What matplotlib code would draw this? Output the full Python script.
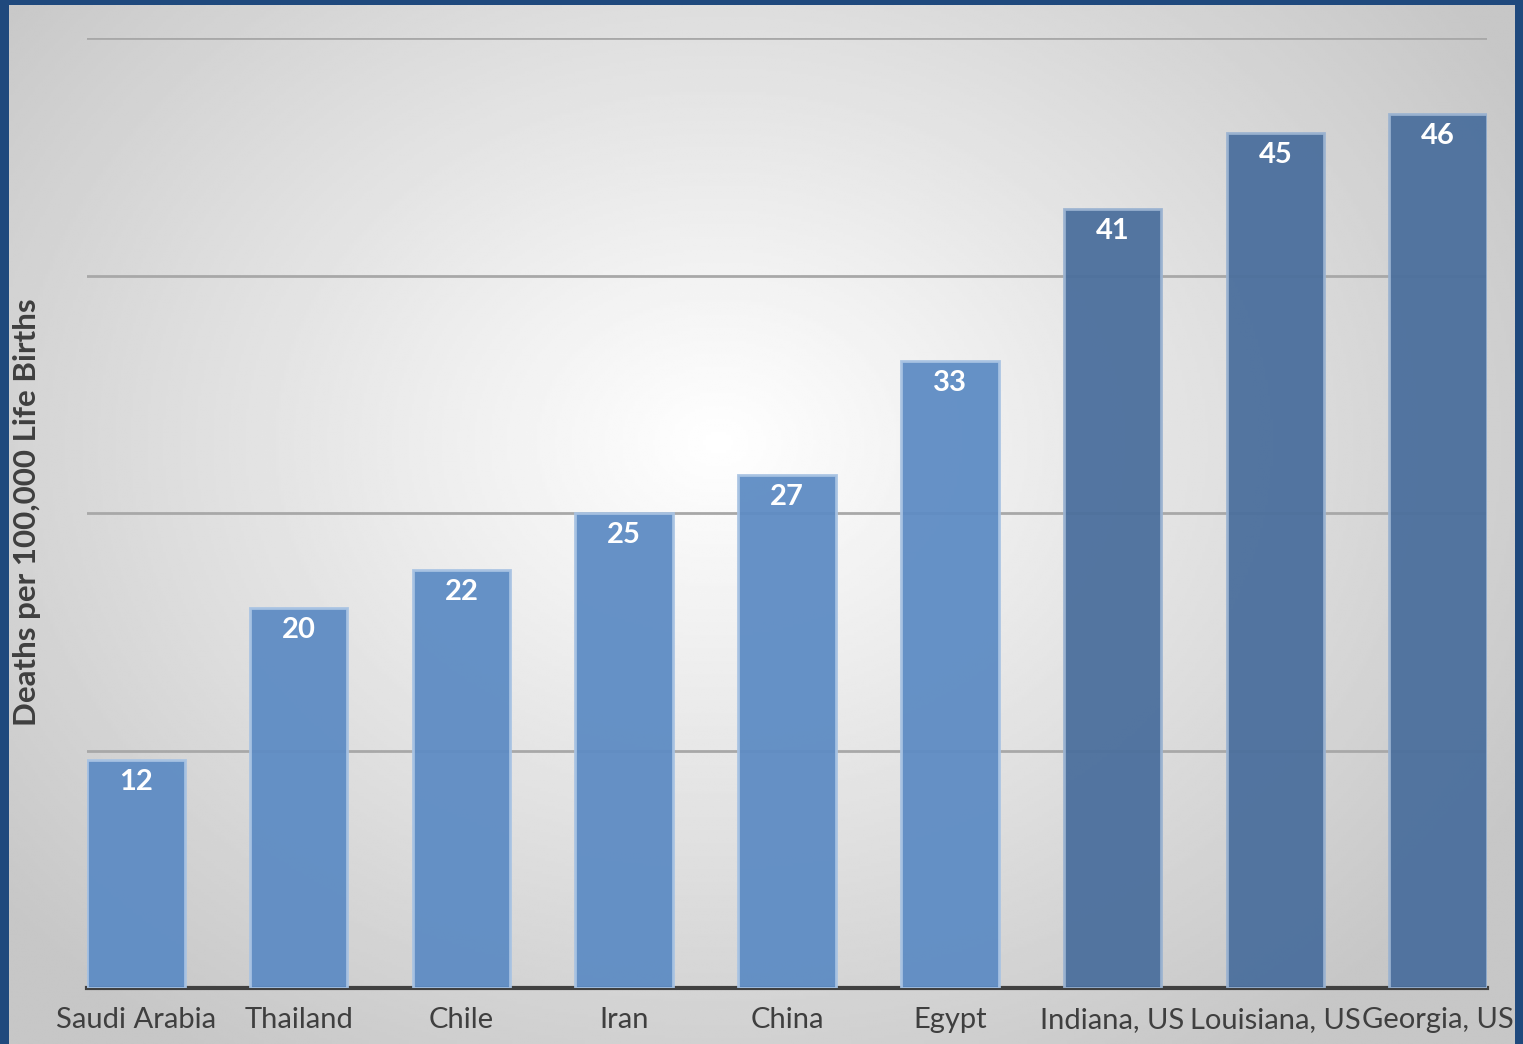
import numpy as np
import matplotlib
matplotlib.use("Agg")
import matplotlib.pyplot as plt

plt.rcParams['font.family'] = ['Lato', 'DejaVu Sans']

# maternal mortality, deaths per 100,000 live births
places = ["Saudi Arabia", "Thailand", "Chile", "Iran", "China", "Egypt",
          "Indiana, US", "Louisiana, US", "Georgia, US"]
deaths = [12, 20, 22, 25, 27, 33, 41, 45, 46]
is_us  = [False, False, False, False, False, False, True, True, True]

W, H, DPI = 1523, 1044, 100
fig = plt.figure(figsize=(W / DPI, H / DPI), dpi=DPI)
fig.patch.set_facecolor("#1f497d")

# slide panel with a soft radial highlight
bg = fig.add_axes([9 / W, 0, (1515 - 9) / W, (H - 5) / H])
yy, xx = np.mgrid[0:400, 0:600]
cx, cy = 0.47 * 600, 0.42 * 400
r = np.sqrt(((xx - cx) / 600) ** 2 + ((yy - cy) / 460) ** 2)
shade = np.clip(1.0 - r * 0.36, 0.78, 1.0)
bg.imshow(shade, cmap="gray", vmin=0, vmax=1, aspect="auto",
          extent=[0, 1, 0, 1], interpolation="bilinear")
bg.set_axis_off()

ax = fig.add_axes([87 / W, (H - 988) / H, 1400 / W, 950 / H])
ax.patch.set_alpha(0)

x = np.arange(len(places))
colors = ["#4b6f9d" if u else "#5e8cc4" for u in is_us]
edges = ["#9bb3d1" if u else "#a8c3e3" for u in is_us]
bars = ax.bar(x, deaths, width=0.6, color=colors, edgecolor=edges,
              linewidth=2, alpha=0.95, zorder=3)

for b, v in zip(bars, deaths):
    ax.text(b.get_x() + b.get_width() / 2, v - 0.45, str(v),
            ha="center", va="top", color="white", fontsize=21,
            fontweight="bold", zorder=4)

ax.set_xlim(-0.3, 8.3)
ax.set_ylim(0, 50)
ax.set_yticks([12.5, 25, 37.5, 50])
ax.yaxis.grid(True, color="#a8a8a8", linewidth=2, zorder=0)
ax.tick_params(axis="y", length=0, labelleft=False)
ax.tick_params(axis="x", length=0, pad=14, labelsize=21, labelcolor="#3f3f3f")
ax.set_xticks(x)
ax.set_xticklabels(places)
for s in ["top", "right", "left"]:
    ax.spines[s].set_visible(False)
ax.spines["bottom"].set_color("#404040")
ax.spines["bottom"].set_linewidth(3)

fig.text(27 / W, 1 - 512 / H, "Deaths per 100,000 Life Births",
         rotation=90, ha="center", va="center", fontsize=22.5,
         fontweight="bold", color="#3f3f3f")

fig.savefig("out.png", dpi=DPI, facecolor=fig.get_facecolor())
